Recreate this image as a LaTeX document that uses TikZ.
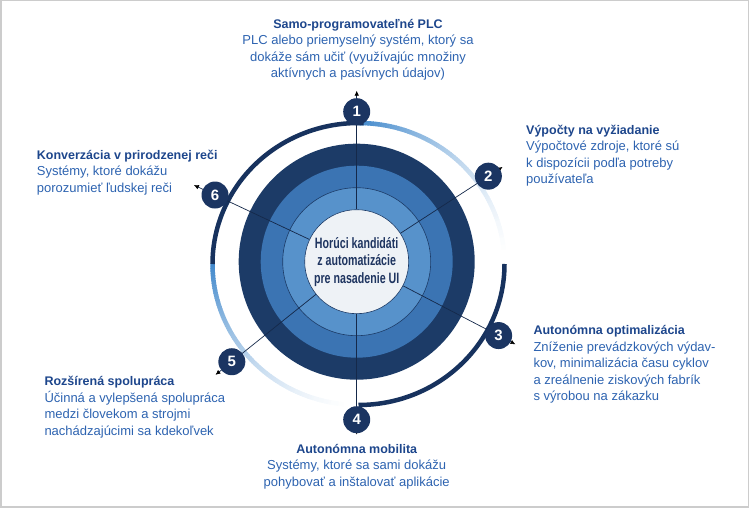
\documentclass[tikz,border=0pt]{standalone}
\usepackage{fontspec}
\setmainfont{Liberation Sans}
\newfontfamily\condf[FakeStretch=0.71]{Liberation Sans}
\usetikzlibrary{arrows.meta}
\definecolor{ring1}{HTML}{1C3B67}
\definecolor{ring2}{HTML}{3B74B3}
\definecolor{ring3}{HTML}{5792CB}
\definecolor{centerc}{HTML}{EEF2F6}
\definecolor{badgec}{HTML}{1B3562}
\definecolor{darkarc}{HTML}{17325E}
\definecolor{gblue}{HTML}{3F87CB}
\definecolor{ttlc}{HTML}{1D468C}
\definecolor{bodyc}{HTML}{2D63B0}
\definecolor{ctext}{HTML}{1F3560}
\definecolor{framec}{HTML}{CCCCCC}
\definecolor{spokec}{HTML}{15294A}
\begin{document}
\begin{tikzpicture}[x=1pt,y=1pt,
  spoke/.style={draw=spokec, line width=0.7pt, -{Latex[length=5pt,width=4.6pt,color=black]}},
  badge/.style={circle, fill=badgec, minimum size=27pt, inner sep=0pt, text=white, font=\fontsize{15}{15}\selectfont\bfseries},
  darc/.style={draw=darkarc, line width=4.5pt},
  blk/.style={inner sep=0pt, text=bodyc, font=\fontsize{13}{16.5}\selectfont},
  ttl/.style={font=\fontsize{12.5}{16.5}\selectfont\bfseries},
]
\useasboundingbox (0,0) rectangle (750,508);
\draw[framec, line width=1.5pt] (0.75,0.75) rectangle (748.5,507.25);
\coordinate (o) at (356.7,246.3);
\fill[ring1] (o) circle[radius=118];
\fill[ring2] (o) circle[radius=96];
\filldraw[fill=ring3, draw=ring1, line width=0.6pt] (o) circle[radius=74];
% outer arcs
\coordinate (e) at (358.5,244);
\foreach \a in {0,...,89}{
  \pgfmathtruncatemacro\p{100*(\a/90)^1.6}
  \draw[gblue!\p!white, line width=4.5pt] (e) ++(\a:146pt and 141pt) arc[start angle=\a, end angle=\a+1.3, x radius=146pt, y radius=141pt];
  \draw[gblue!\p!white, line width=4.5pt] (e) ++(-90-\a:146pt and 141pt) arc[start angle=-90-\a, end angle=-91.3-\a, x radius=146pt, y radius=141pt];
}
\draw[darc] (e) ++(180:146pt and 141pt) arc[start angle=180, end angle=88, x radius=146pt, y radius=141pt];
\draw[darc] (e) ++(0:146pt and 141pt) arc[start angle=0, end angle=-90, x radius=146pt, y radius=141pt];
% centre
\node[circle, minimum size=104pt, inner sep=0pt, fill=centerc, draw=ring1, line width=0.6pt, align=center, text=ctext, font=\condf\bfseries\fontsize{15}{17.5}\selectfont] (c) at (o) {Horúci kandidáti\\z automatizácie\\pre nasadenie UI};
% spokes
\foreach \n/\ang/\rt in {1/90/171, 2/33/174, 3/-27.5/179, 4/-90/173, 5/-141.3/181, 6/154.8/180}{
  \coordinate (t\n) at ([shift={(\ang:\rt)}]o);
}
\foreach \n in {1,...,6}{\draw[spoke] (c) -- (t\n);}
\foreach \n/\ang/\rb in {1/90/150, 2/33/157, 3/-27.5/160, 4/-90/158, 5/-141.3/160, 6/154.8/156.6}{
  \node[badge] (b\n) at ([shift={(\ang:\rb)}]o) {\n};
}
% texts
\node[blk, anchor=north, align=center] (tx1) at (358,491.55) {\strut\textcolor{ttlc}{\fontsize{12.5}{16.5}\selectfont\bfseries Samo-programovateľné PLC}\\PLC alebo priemyselný systém, ktorý sa\\dokáže sám učiť (využívajúc množiny\\aktívnych a pasívnych údajov)};
\node[blk, anchor=north west, align=left] (tx2) at (526,385.55) {\strut\textcolor{ttlc}{\fontsize{12.5}{16.5}\selectfont\bfseries Výpočty na vyžiadanie}\\Výpočtové zdroje, ktoré sú\\k dispozícii podľa potreby\\používateľa};
\node[blk, anchor=north west, align=left] (tx3) at (533.3,184.85) {\strut\textcolor{ttlc}{\fontsize{12.5}{16.5}\selectfont\bfseries Autonómna optimalizácia}\\Zníženie prevádzkových výdav-\\kov, minimalizácia času cyklov\\a zreálnenie ziskových fabrík\\s výrobou na zákazku};
\node[blk, anchor=north, align=center] (tx4) at (356.7,66.25) {\strut\textcolor{ttlc}{\fontsize{12.5}{16.5}\selectfont\bfseries Autonómna mobilita}\\Systémy, ktoré sa sami dokážu\\pohybovať a inštalovať aplikácie};
\node[blk, anchor=north west, align=left] (tx5) at (44.3,133.85) {\strut\textcolor{ttlc}{\fontsize{12.5}{16.5}\selectfont\bfseries Rozšírená spolupráca}\\Účinná a vylepšená spolupráca\\medzi človekom a strojmi\\nachádzajúcimi sa kdekoľvek};
\node[blk, anchor=north west, align=left] (tx6) at (36.7,360.55) {\strut\textcolor{ttlc}{\fontsize{12.5}{16.5}\selectfont\bfseries Konverzácia v prirodzenej reči}\\Systémy, ktoré dokážu\\porozumieť ľudskej reči};
\end{tikzpicture}
\end{document}
